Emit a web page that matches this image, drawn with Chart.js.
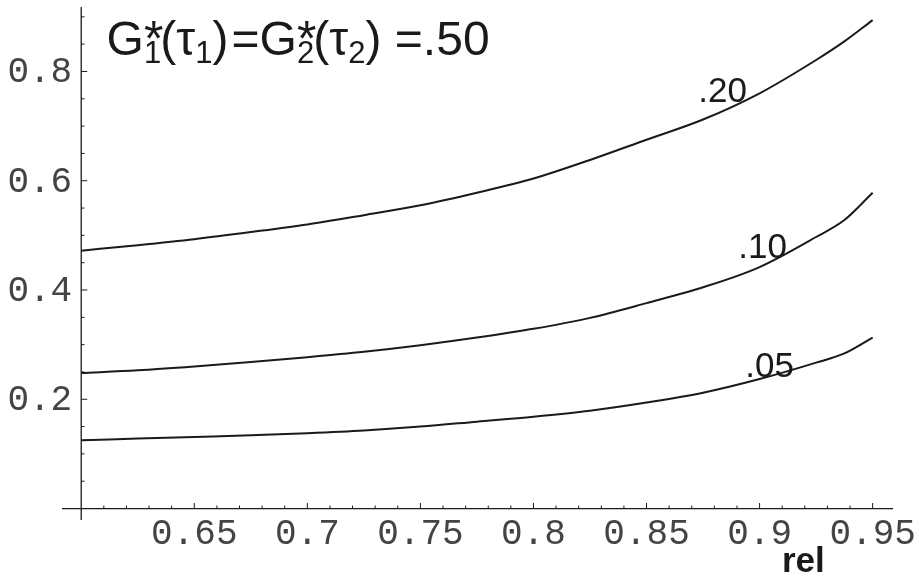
<!DOCTYPE html>
<html>
<head>
<meta charset="utf-8">
<script src="https://cdn.jsdelivr.net/npm/chart.js@4.4.1/dist/chart.umd.min.js"></script>
<style>
  body { margin: 0; background: #fff; }
  #wrap { width: 919px; height: 580px; }
</style>
</head>
<body>
<div id="wrap"><canvas id="relChart" width="919" height="580"></canvas></div>
<script>
// values
const relValues = [0.6, 0.625, 0.65, 0.675, 0.7, 0.725, 0.75, 0.775, 0.8, 0.825, 0.85, 0.875, 0.9, 0.925, 0.9375, 0.95];
const level20 = [0.472, 0.482, 0.493, 0.506, 0.520, 0.537, 0.555, 0.578, 0.604, 0.638, 0.675, 0.712, 0.760, 0.821, 0.855, 0.894];
const level10 = [0.248, 0.253, 0.260, 0.268, 0.277, 0.287, 0.299, 0.313, 0.329, 0.349, 0.376, 0.405, 0.442, 0.497, 0.528, 0.578];
const level05 = [0.125, 0.128, 0.131, 0.134, 0.138, 0.143, 0.150, 0.159, 0.168, 0.179, 0.194, 0.212, 0.237, 0.267, 0.284, 0.313];

const curveLabels = ['.20', '.10', '.05'];
const curveLabelPos = [[0.8729, 0.7446], [0.8906, 0.458], [0.8937, 0.240]];

const xTickLabels = ['0.65', '0.7', '0.75', '0.8', '0.85', '0.9', '0.95'];
const xTickValues = [0.65, 0.7, 0.75, 0.8, 0.85, 0.9, 0.95];
const yTickLabels = ['0.2', '0.4', '0.6', '0.8'];
const yTickValues = [0.2, 0.4, 0.6, 0.8];

const X_MIN = 0.5915, X_MAX = 0.959, Y_MIN = -0.021, Y_MAX = 0.918;
const ORIGIN_X = 0.6, ORIGIN_Y = 0;

const ink = '#1a1a1a';
const mono = '"Liberation Mono", "Courier New", monospace';
const sans = '"Liberation Sans", Arial, sans-serif';

function toPoints(ys) {
    return relValues.map((x, i) => ({ x: x, y: ys[i] }));
}

// axes through the origin, Mathematica style, with minor ticks
const axesPlugin = {
    id: 'axesPlugin',
    afterDatasetsDraw(chart) {
        const ctx = chart.ctx;
        const xs = chart.scales.x, ys = chart.scales.y;
        const ox = xs.getPixelForValue(ORIGIN_X);
        const oy = ys.getPixelForValue(ORIGIN_Y);
        ctx.save();
        ctx.strokeStyle = ink;
        ctx.lineWidth = 1.3;
        ctx.beginPath();
        ctx.moveTo(xs.getPixelForValue(X_MIN), oy);
        ctx.lineTo(xs.getPixelForValue(X_MAX), oy);
        ctx.moveTo(ox, ys.getPixelForValue(Y_MIN));
        ctx.lineTo(ox, ys.getPixelForValue(Y_MAX));
        ctx.stroke();

        // x ticks every 0.01, longer every 0.05
        ctx.lineWidth = 1;
        ctx.beginPath();
        for (let k = 61; k <= 95; k++) {
            const px = xs.getPixelForValue(k / 100);
            const len = (k % 5 === 0) ? 5.5 : 3;
            ctx.moveTo(px, oy);
            ctx.lineTo(px, oy - len);
        }
        // y ticks every 0.05, longer every 0.2
        for (let k = 1; k <= 18; k++) {
            const py = ys.getPixelForValue(k * 0.05);
            const len = (k % 4 === 0) ? 6 : 3.3;
            ctx.moveTo(ox, py);
            ctx.lineTo(ox + len, py);
        }
        ctx.stroke();

        // tick labels
        ctx.fillStyle = '#444';
        ctx.font = '36px ' + mono;
        ctx.textBaseline = 'alphabetic';
        ctx.textAlign = 'center';
        xTickValues.forEach((v, i) => {
            ctx.fillText(xTickLabels[i], xs.getPixelForValue(v), oy + 35);
        });
        ctx.textAlign = 'right';
        yTickValues.forEach((v, i) => {
            ctx.fillText(yTickLabels[i], ox - 9, ys.getPixelForValue(v) + 11);
        });

        // axis label
        ctx.fillStyle = ink;
        ctx.textAlign = 'left';
        ctx.font = 'bold 35px ' + sans;
        ctx.fillText('rel', xs.getPixelForValue(0.9099), ys.getPixelForValue(-0.1155));

        // curve labels
        ctx.font = '35px ' + sans;
        curveLabels.forEach((t, i) => {
            ctx.fillText(t, xs.getPixelForValue(curveLabelPos[i][0]), ys.getPixelForValue(curveLabelPos[i][1]));
        });

        // formula G*1(t1) = G*2(t2) = .50
        drawFormula(ctx, xs.getPixelForValue(0.6112), ys.getPixelForValue(0.830));
        ctx.restore();
    }
};

function drawFormula(ctx, x, y) {
    const big = '48px ' + sans;
    const small = '31px ' + sans;
    const star = '50px ' + sans;
    let cx = x;
    const put = (t, font, dy) => {
        ctx.font = font;
        ctx.fillText(t, cx, y + dy);
        return ctx.measureText(t).width;
    };
    const starred = (sub) => {
        cx += put('G', big, 0);
        ctx.font = star;
        const ws = ctx.measureText('*').width;
        ctx.font = small;
        const w = Math.max(ws, ctx.measureText(sub).width);
        put('*', star, 1);
        put(sub, small, 8);
        cx += w - 3;
    };
    const arg = (sub) => {
        cx += put('(', big, 0);
        cx += put('\u03C4', big, 0);
        cx += put(sub, small, 8);
        cx += put(')', big, 0);
    };
    starred('1');
    arg('1');
    cx += 3;
    cx += put('=', big, 0);
    starred('2');
    arg('2');
    cx += put(' =', big, 0);
    cx += put('.50', big, 0);
}

const lineStyle = {
    borderColor: ink,
    borderWidth: 2,
    pointRadius: 0,
    fill: false,
    cubicInterpolationMode: 'monotone'
};

new Chart(document.getElementById('relChart'), {
    type: 'line',
    data: {
        datasets: [
            Object.assign({ label: '.20', data: toPoints(level20) }, lineStyle),
            Object.assign({ label: '.10', data: toPoints(level10) }, lineStyle),
            Object.assign({ label: '.05', data: toPoints(level05) }, lineStyle)
        ]
    },
    options: {
        responsive: false,
        animation: false,
        layout: { padding: { left: 62, right: 26, top: 7, bottom: 60 } },
        scales: {
            x: { type: 'linear', min: X_MIN, max: X_MAX, display: false },
            y: { type: 'linear', min: Y_MIN, max: Y_MAX, display: false }
        },
        plugins: {
            legend: { display: false },
            tooltip: { enabled: false }
        }
    },
    plugins: [axesPlugin]
});
</script>
</body>
</html>
